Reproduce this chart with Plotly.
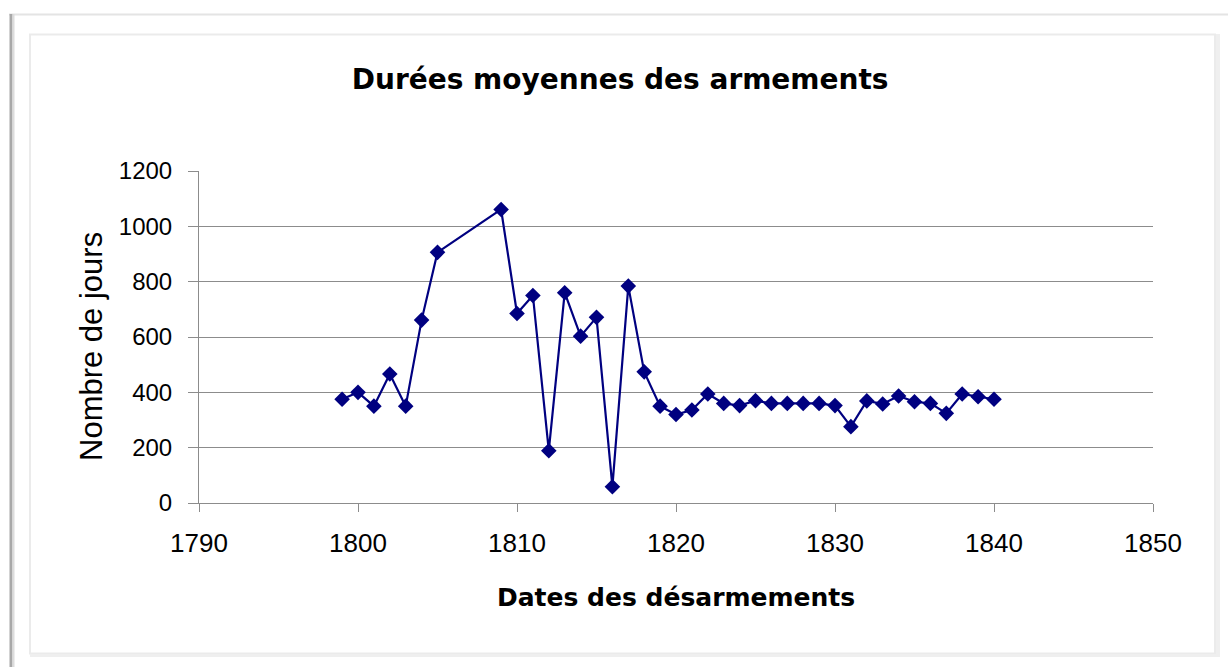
import plotly.graph_objects as go

# Average fitting-out duration (days) by decommissioning year
years = [1799, 1800, 1801, 1802, 1803, 1804, 1805,
         1809, 1810, 1811, 1812, 1813, 1814, 1815, 1816, 1817, 1818, 1819,
         1820, 1821, 1822, 1823, 1824, 1825, 1826, 1827, 1828, 1829,
         1830, 1831, 1832, 1833, 1834, 1835, 1836, 1837, 1838, 1839, 1840]
days = [375, 400, 350, 466, 350, 661, 906,
        1061, 685, 750, 189, 760, 603, 671, 59, 784, 474, 350,
        320, 336, 394, 360, 352, 370, 360, 360, 360, 360,
        352, 276, 369, 358, 387, 366, 360, 324, 394, 384, 375]

x_ticks = [1790, 1800, 1810, 1820, 1830, 1840, 1850]
y_ticks = [0, 200, 400, 600, 800, 1000, 1200]

title_text = "Durées moyennes des armements"
x_title = "Dates des désarmements"
y_title = "Nombre de jours"

W, H = 1228, 667
L, R, T, B = 199, 75, 171, 164
NAVY = "#000080"
GRID = "#8c8c8c"


def px(xp):
    return (xp - L) / (W - L - R)


def py(yp):
    return (H - B - yp) / (H - T - B)


fig = go.Figure()
fig.add_trace(go.Scatter(
    x=years, y=days, mode="lines+markers",
    line=dict(color=NAVY, width=2.2),
    marker=dict(symbol="diamond", size=12, color=NAVY),
    showlegend=False, hoverinfo="x+y",
))

# outer sheet edge and inner chart frame
shapes = [
    dict(type="line", xref="paper", yref="paper", x0=px(9), x1=px(1228), y0=py(14.5), y1=py(14.5),
         line=dict(color="#e4e4e4", width=2)),
    dict(type="line", xref="paper", yref="paper", x0=px(11), x1=px(11), y0=py(14), y1=py(667),
         line=dict(color="#a8a8a8", width=3)),
    dict(type="line", xref="paper", yref="paper", x0=px(13.5), x1=px(13.5), y0=py(14), y1=py(667),
         line=dict(color="#dcdcdc", width=2)),
    dict(type="rect", xref="paper", yref="paper", x0=px(30), x1=px(1215), y0=py(34.5), y1=py(653.5),
         line=dict(color="#ebebeb", width=2), fillcolor="rgba(0,0,0,0)"),
    dict(type="line", xref="paper", yref="paper", x0=px(1218), x1=px(1218), y0=py(34), y1=py(656),
         line=dict(color="#efefef", width=4)),
    dict(type="line", xref="paper", yref="paper", x0=px(30), x1=px(1220), y0=py(655.5), y1=py(655.5),
         line=dict(color="#efefef", width=3)),
]

fig.update_layout(
    width=W, height=H,
    margin=dict(l=L, r=R, t=T, b=B, pad=0),
    paper_bgcolor="white", plot_bgcolor="white",
    shapes=shapes,
    title=dict(text=title_text, x=0.505, xref="container", xanchor="center",
               y=1 - 79 / H, yref="container", yanchor="middle",
               font=dict(family="DejaVu Sans", size=28, color="black", weight="bold")),
    xaxis=dict(range=[1790, 1850], tickvals=x_ticks, ticktext=[str(v) for v in x_ticks],
               showgrid=False, zeroline=False, showline=True, linecolor=GRID, linewidth=1,
               ticks="outside", ticklen=8, tickcolor=GRID, tickwidth=1,
               tickfont=dict(family="Liberation Sans", size=26, color="black"),
               ticklabelstandoff=9),
    yaxis=dict(range=[0, 1200], tickvals=y_ticks, ticktext=[str(v) for v in y_ticks],
               showgrid=True, gridcolor=GRID, gridwidth=1, zeroline=False,
               showline=True, linecolor=GRID, linewidth=1,
               ticks="outside", ticklen=10, tickcolor=GRID, tickwidth=1,
               tickfont=dict(family="Liberation Sans", size=24, color="black"),
               ticklabelstandoff=11),
    annotations=[
        dict(text=x_title, xref="paper", yref="paper", x=0.5, y=py(597),
             xanchor="center", yanchor="middle", showarrow=False,
             font=dict(family="DejaVu Sans", size=25, color="black", weight="bold")),
        dict(text=y_title, xref="paper", yref="paper", x=px(91), y=py(347),
             xanchor="center", yanchor="middle", showarrow=False, textangle=-90,
             font=dict(family="Liberation Sans", size=31, color="black")),
    ],
)

fig.write_html("out.html")
